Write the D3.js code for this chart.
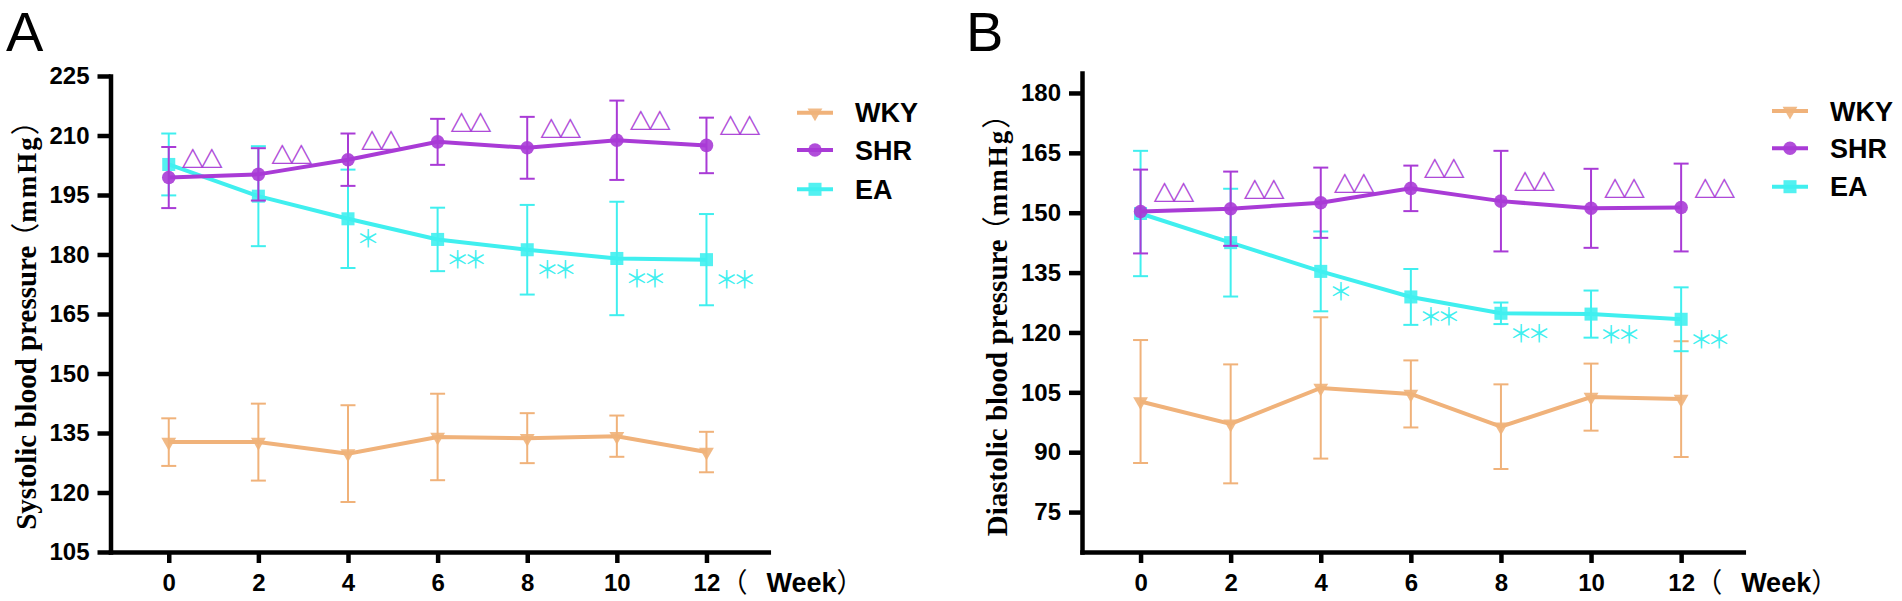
<!DOCTYPE html>
<html>
<head>
<meta charset="utf-8">
<script src="https://cdn.jsdelivr.net/npm/d3@7"></script>
<style>
  body { margin: 0; background: #fff; }
</style>
</head>
<body>
<script>
// weeks of treatment
const weeks = [0, 2, 4, 6, 8, 10, 12];
const groups = ['WKY', 'SHR', 'EA'];
const sbpTicks = [105, 120, 135, 150, 165, 180, 195, 210, 225];
const dbpTicks = [75, 90, 105, 120, 135, 150, 165, 180];

// A: systolic (mean, sd)
const sbpWKY = [132.7, 132.7, 129.8, 134.0, 133.7, 134.2, 130.2];
const sbpWKYsd = [6.0, 9.7, 12.2, 10.9, 6.3, 5.2, 5.1];
const sbpSHR = [199.4, 200.2, 203.9, 208.4, 206.9, 208.8, 207.5];
const sbpSHRsd = [7.7, 6.6, 6.6, 5.8, 7.8, 10.0, 7.0];
const sbpEA = [202.7, 194.7, 189.0, 183.8, 181.2, 179.0, 178.7];
const sbpEAsd = [7.8, 12.6, 12.4, 8.0, 11.3, 14.3, 11.5];

// B: diastolic (mean, sd)
const dbpWKY = [102.7, 97.1, 106.1, 104.6, 96.4, 103.8, 103.3];
const dbpWKYsd = [15.4, 14.9, 17.7, 8.4, 10.6, 8.4, 14.5];
const dbpSHR = [150.3, 151.0, 152.5, 156.1, 152.9, 151.1, 151.3];
const dbpSHRsd = [10.5, 9.3, 8.8, 5.7, 12.6, 9.9, 11.0];
const dbpEA = [149.8, 142.5, 135.3, 128.9, 124.8, 124.6, 123.3];
const dbpEAsd = [15.7, 13.5, 10.0, 7.0, 2.7, 5.9, 8.0];

// significance marks
const shrMarks = ['△△', '△△', '△△', '△△', '△△', '△△', '△△'];
const eaMarks = ['', '', '＊', '＊＊', '＊＊', '＊＊', '＊＊'];

const color = d3.scaleOrdinal(groups, ['#F0B27A', '#A93BD6', '#40EFEF']);
const symbolOf = {
  WKY: d3.symbol(d3.symbolTriangle, 95),
  SHR: d3.symbol(d3.symbolCircle, 145),
  EA: d3.symbol(d3.symbolSquare, 170)
};
const rotOf = { WKY: 180, SHR: 0, EA: 0 };

const sansFont = '"Liberation Sans", Arial, sans-serif';
const serifFont = '"Liberation Serif", "Times New Roman", serif';
const cjkFont = '"Noto Sans CJK SC", sans-serif';

const svg = d3.select('body').append('svg')
  .attr('width', 1902)
  .attr('height', 601)
  .attr('viewBox', [0, 0, 1902, 601]);

const panels = [
  {
    letter: 'A', letterX: 6, letterY: 51,
    xRange: [110.5, 768.3], yRange: [552, 76], yDomain: [105, 225], ticks: sbpTicks,
    title: 'Systolic blood pressure', titleX: 36, titleCY: 318,
    mean: { WKY: sbpWKY, SHR: sbpSHR, EA: sbpEA },
    sd: { WKY: sbpWKYsd, SHR: sbpSHRsd, EA: sbpEAsd },
    legendX: 815, legendY: [112.7, 150, 189.3]
  },
  {
    letter: 'B', letterX: 966, letterY: 51,
    xRange: [1082, 1743.3], yRange: [552, 73], yDomain: [65, 185], ticks: dbpTicks,
    title: 'Diastolic blood pressure', titleX: 1007, titleCY: 318,
    mean: { WKY: dbpWKY, SHR: dbpSHR, EA: dbpEA },
    sd: { WKY: dbpWKYsd, SHR: dbpSHRsd, EA: dbpEAsd },
    legendX: 1790, legendY: [111, 148.3, 186.7]
  }
];

panels.forEach(drawPanel);

function drawPanel(p) {
  const x = d3.scaleLinear().domain([-1.3, 13.38]).range(p.xRange);
  const y = d3.scaleLinear().domain(p.yDomain).range(p.yRange);
  const g = svg.append('g');

  // panel letter
  g.append('text')
    .attr('x', p.letterX)
    .attr('y', p.letterY)
    .attr('font-family', sansFont)
    .attr('font-size', 56)
    .text(p.letter);

  // axes
  const gy = g.append('g')
    .attr('transform', `translate(${p.xRange[0]},0)`)
    .call(d3.axisLeft(y).tickValues(p.ticks).tickSize(13).tickSizeOuter(0).tickPadding(8));
  const gx = g.append('g')
    .attr('transform', `translate(0,${p.yRange[0]})`)
    .call(d3.axisBottom(x).tickValues(weeks).tickSize(11).tickSizeOuter(0).tickPadding(11));
  [gx, gy].forEach(a => {
    a.select('.domain').attr('stroke', '#000').attr('stroke-width', 4.5).attr('stroke-linecap', 'square');
    a.selectAll('.tick line').attr('stroke', '#000').attr('stroke-width', 4.5);
    a.selectAll('.tick text')
      .attr('fill', '#000')
      .attr('font-family', sansFont)
      .attr('font-weight', 'bold')
      .attr('font-size', 24);
  });

  // x unit label
  const wk = g.append('text')
    .attr('y', p.yRange[0] + 40)
    .attr('font-family', sansFont)
    .attr('font-weight', 'bold')
    .attr('font-size', 27);
  wk.append('tspan')
    .attr('x', x(12) + 14)
    .attr('font-family', cjkFont)
    .attr('font-weight', 'normal')
    .text('（');
  wk.append('tspan')
    .attr('x', x(12) + 60)
    .text('Week');
  wk.append('tspan')
    .attr('font-family', cjkFont)
    .attr('font-weight', 'normal')
    .text('）');

  // y title
  const t = g.append('text')
    .attr('transform', `translate(${p.titleX},${p.titleCY}) rotate(-90)`)
    .attr('text-anchor', 'middle')
    .attr('font-family', serifFont)
    .attr('font-weight', 'bold')
    .attr('font-size', 29);
  t.append('tspan').text(p.title);
  t.append('tspan')
    .attr('dx', -6)
    .attr('font-family', cjkFont)
    .attr('font-weight', 'normal')
    .text('（');
  t.append('tspan')
    .attr('font-size', 27)
    .attr('letter-spacing', 2)
    .text('mmHg');
  t.append('tspan')
    .attr('font-family', cjkFont)
    .attr('font-weight', 'normal')
    .text('）');

  // series, SHR drawn last
  const line = d3.line().x((d, i) => x(weeks[i])).y(d => y(d));
  ['WKY', 'EA', 'SHR'].forEach(name => {
    const m = p.mean[name];
    const s = p.sd[name];
    const c = color(name);
    const sg = g.append('g');

    const eb = sg.selectAll('g.err')
      .data(m)
      .join('g')
      .attr('class', 'err')
      .attr('stroke', c)
      .attr('stroke-width', 2);
    eb.append('line')
      .attr('x1', (d, i) => x(weeks[i]))
      .attr('x2', (d, i) => x(weeks[i]))
      .attr('y1', (d, i) => y(d - s[i]))
      .attr('y2', (d, i) => y(d + s[i]));
    eb.append('line')
      .attr('x1', (d, i) => x(weeks[i]) - 7.5)
      .attr('x2', (d, i) => x(weeks[i]) + 7.5)
      .attr('y1', (d, i) => y(d + s[i]))
      .attr('y2', (d, i) => y(d + s[i]));
    eb.append('line')
      .attr('x1', (d, i) => x(weeks[i]) - 7.5)
      .attr('x2', (d, i) => x(weeks[i]) + 7.5)
      .attr('y1', (d, i) => y(d - s[i]))
      .attr('y2', (d, i) => y(d - s[i]));

    sg.append('path')
      .datum(m)
      .attr('fill', 'none')
      .attr('stroke', c)
      .attr('stroke-width', 4)
      .attr('d', line);

    sg.selectAll('path.mk')
      .data(m)
      .join('path')
      .attr('class', 'mk')
      .attr('fill', c)
      .attr('fill-opacity', 0.9)
      .attr('transform', (d, i) => `translate(${x(weeks[i])},${y(d)}) rotate(${rotOf[name]})`)
      .attr('d', symbolOf[name]);
  });

  // significance marks
  g.selectAll('text.shr')
    .data(p.mean.SHR)
    .join('text')
    .attr('class', 'shr')
    .attr('x', (d, i) => x(weeks[i]) + 13)
    .attr('y', d => y(d) - 11)
    .attr('font-family', cjkFont)
    .attr('font-size', 22)
    .attr('letter-spacing', -3)
    .attr('fill', color('SHR'))
    .attr('stroke', color('SHR'))
    .attr('stroke-width', 0.4)
    .text((d, i) => shrMarks[i]);
  g.selectAll('text.ea')
    .data(p.mean.EA)
    .join('text')
    .attr('class', 'ea')
    .attr('x', (d, i) => x(weeks[i]) + 8)
    .attr('y', d => y(d) + 18)
    .attr('dominant-baseline', 'central')
    .attr('font-family', cjkFont)
    .attr('font-size', 24)
    .attr('letter-spacing', -6)
    .attr('fill', color('EA'))
    .text((d, i) => eaMarks[i]);

  // legend
  const lg = g.selectAll('g.legend')
    .data(groups)
    .join('g')
    .attr('class', 'legend')
    .attr('transform', (d, i) => `translate(${p.legendX},${p.legendY[i]})`);
  lg.append('line')
    .attr('x1', -18).attr('x2', 18)
    .attr('stroke', d => color(d))
    .attr('stroke-width', 4);
  lg.append('path')
    .attr('fill', d => color(d))
    .attr('fill-opacity', 0.9)
    .attr('transform', d => `rotate(${rotOf[d]})`)
    .attr('d', d => symbolOf[d]());
  lg.append('text')
    .attr('x', 40)
    .attr('dy', '0.36em')
    .attr('font-family', sansFont)
    .attr('font-weight', 'bold')
    .attr('font-size', 27)
    .text(d => d);
}
</script>
</body>
</html>
